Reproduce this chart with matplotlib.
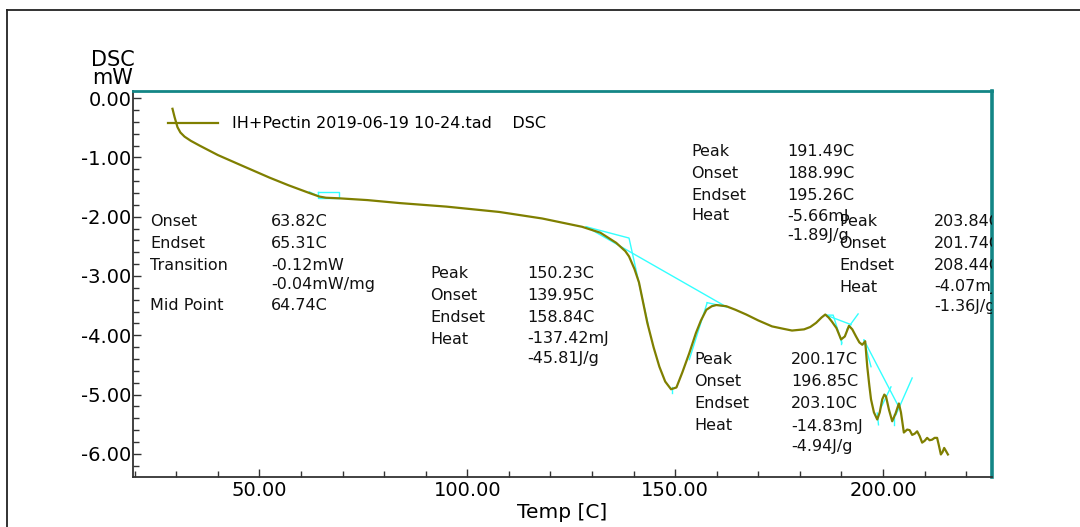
import numpy as np
import matplotlib
matplotlib.use("Agg")
import matplotlib.pyplot as plt
from matplotlib.lines import Line2D
from matplotlib.ticker import MultipleLocator, FormatStrFormatter

# DSC trace, temperature [C] vs heat flow [mW]
temp = [29.1, 29.6, 30.3, 31.0, 32.0, 33.5, 35.6, 40.0, 45.2, 52.4, 57.0, 62.0,
        64.4, 66.0, 69.2, 76.0, 83.7, 95.0, 107.7, 118.0, 127.6, 132.0, 135.8,
        138.0, 138.9, 140.2, 141.3, 142.3, 143.3, 144.8, 146.2, 147.6, 149.0,
        150.3, 151.7, 153.4, 155.0, 156.2, 157.5, 158.8, 159.9, 162.3, 164.5,
        167.1, 170.0, 173.3, 176.0, 178.1, 181.0, 182.5, 183.9, 185.2, 186.1,
        186.9, 187.7, 188.8, 189.9, 190.8, 191.8, 192.6, 193.5, 194.3, 195.0,
        195.7, 196.2, 196.7, 197.1, 197.8, 198.6, 199.2, 199.8, 200.3, 200.7,
        201.4, 202.2, 203.0, 203.8, 204.3, 205.0, 205.8, 206.4, 207.0, 207.6,
        208.2, 208.8, 209.4, 210.0, 210.6, 211.2, 211.8, 212.4, 213.0, 213.4,
        213.9, 214.3, 214.7, 215.2, 215.6]
dsc = [-0.18, -0.32, -0.49, -0.58, -0.65, -0.72, -0.80, -0.96, -1.12, -1.34, -1.47,
       -1.60, -1.66, -1.68, -1.69, -1.72, -1.77, -1.83, -1.92, -2.03, -2.17, -2.27,
       -2.44, -2.58, -2.67, -2.88, -3.11, -3.45, -3.79, -4.20, -4.53, -4.78, -4.91,
       -4.88, -4.63, -4.30, -3.96, -3.75, -3.57, -3.51, -3.49, -3.51, -3.57, -3.65,
       -3.75, -3.85, -3.89, -3.92, -3.90, -3.86, -3.79, -3.70, -3.65, -3.70, -3.77,
       -3.88, -4.07, -4.02, -3.84, -3.90, -4.02, -4.12, -4.16, -4.10, -4.53, -4.85,
       -5.08, -5.30, -5.42, -5.30, -5.08, -5.00, -5.03, -5.25, -5.45, -5.32, -5.15,
       -5.30, -5.64, -5.59, -5.60, -5.68, -5.66, -5.62, -5.70, -5.81, -5.78, -5.73,
       -5.77, -5.76, -5.73, -5.73, -5.85, -6.01, -5.97, -5.90, -5.96, -6.01]

# analysis construction lines (tangents / baselines), pairs of (T, mW) segments
tg_box_t = [64.2, 69.2, 69.2, 64.2, 64.2]
tg_box_y = [-1.59, -1.59, -1.68, -1.68, -1.59]
tg_lead_t = [62.0, 64.4]
tg_lead_y = [-1.58, -1.66]

seg_t = [
    [128.6, 138.9, 143.5],
    [128.6, 162.3],
    [157.7, 162.3],
    [157.7, 153.4],
    [149.3, 149.3],
    [186.3, 188.0, 190.1],
    [186.3, 192.3],
    [191.3, 194.0],
    [189.9, 189.9],
    [195.4, 203.8],
    [195.4, 197.1],
    [199.5, 201.9],
    [198.6, 198.9],
    [203.1, 207.0],
    [202.6, 202.6],
]
seg_y = [
    [-2.17, -2.36, -3.82],
    [-2.17, -3.52],
    [-3.45, -3.52],
    [-3.45, -4.41],
    [-4.88, -4.98],
    [-3.66, -3.66, -4.13],
    [-3.66, -3.82],
    [-3.90, -3.64],
    [-4.05, -4.15],
    [-4.08, -5.21],
    [-4.08, -4.53],
    [-5.22, -4.87],
    [-5.31, -5.51],
    [-5.34, -4.72],
    [-5.33, -5.52],
]

# result tables: (label column, value column, rows)
tables = [
    (150, 271, [("Onset", "63.82C", 221), ("Endset", "65.31C", 243),
                ("Transition", "-0.12mW", 265), ("", "-0.04mW/mg", 284),
                ("Mid Point", "64.74C", 305)]),
    (430, 527, [("Peak", "150.23C", 273), ("Onset", "139.95C", 295),
                ("Endset", "158.84C", 317), ("Heat", "-137.42mJ", 339),
                ("", "-45.81J/g", 358)]),
    (691, 787, [("Peak", "191.49C", 152), ("Onset", "188.99C", 173),
                ("Endset", "195.26C", 195), ("Heat", "-5.66mJ", 216),
                ("", "-1.89J/g", 236)]),
    (839, 934, [("Peak", "203.84C", 221), ("Onset", "201.74C", 243),
                ("Endset", "208.44C", 265), ("Heat", "-4.07mJ", 287),
                ("", "-1.36J/g", 306)]),
    (694, 791, [("Peak", "200.17C", 360), ("Onset", "196.85C", 382),
                ("Endset", "203.10C", 404), ("Heat", "-14.83mJ", 426),
                ("", "-4.94J/g", 446)]),
]

W, H = 1080, 527
fig = plt.figure(figsize=(W / 100, H / 100), dpi=100)
plt.rcParams['font.family'] = ['DejaVu Sans']

def fx(px):
    return px / W

def fy(py):
    return 1 - py / H

# outer frame
fig.add_artist(Line2D([fx(7), fx(7)], [fy(10), 0], color='#222222', lw=1.3))
fig.add_artist(Line2D([fx(7), 1], [fy(10), fy(10)], color='#222222', lw=1.3))

ax = fig.add_axes([fx(133), fy(477), fx(992) - fx(133), fy(91) - fy(477)])
ax.set_xlim(19.6, 226.2)
ax.set_ylim(-6.39, 0.12)

olive = '#7f7f00'
cyan = '#33ffff'

ax.plot(temp, dsc, color=olive, lw=1.6, zorder=3,
        label='IH+Pectin 2019-06-19 10-24.tad    DSC')
ax.plot(tg_box_t, tg_box_y, color=cyan, lw=1.0, zorder=2)
ax.plot(tg_lead_t, tg_lead_y, color=cyan, lw=1.0, zorder=2)
for st, sy in zip(seg_t, seg_y):
    ax.plot(st, sy, color=cyan, lw=1.0, zorder=2)

for side in ['left', 'bottom']:
    ax.spines[side].set_color('#333333')
    ax.spines[side].set_linewidth(1.3)
ax.spines['top'].set_color('#138686')
ax.spines['top'].set_linewidth(2.0)
ax.spines['right'].set_color('#138686')
ax.spines['right'].set_linewidth(2.6)

ax.xaxis.set_major_locator(MultipleLocator(50))
ax.xaxis.set_minor_locator(MultipleLocator(10))
ax.yaxis.set_major_locator(MultipleLocator(1))
ax.yaxis.set_minor_locator(MultipleLocator(0.2))
ax.xaxis.set_major_formatter(FormatStrFormatter('%.2f'))
ax.yaxis.set_major_formatter(FormatStrFormatter('%.2f'))
ax.tick_params(which='both', direction='in', color='#333333', width=1.0,
               top=False, right=False, labelsize=14)
ax.tick_params(which='major', length=6)
ax.tick_params(which='minor', length=4)
ax.tick_params(axis='y', pad=1)
ax.tick_params(axis='x', pad=3)

ax.set_xlabel('Temp [C]', fontsize=14.5, labelpad=2)
fig.text(fx(113), fy(60), 'DSC', fontsize=15, ha='center', va='center')
fig.text(fx(113), fy(78), 'mW', fontsize=15, ha='center', va='center')

leg = ax.legend(loc='center left', bbox_to_anchor=((168 - 133) / 859, (477 - 124) / 386),
                frameon=False, fontsize=11.5, handlelength=3.1, handletextpad=0.9,
                borderpad=0, borderaxespad=0)

for lx, vx, rows in tables:
    for lab, val, py in rows:
        if lab:
            ax.text(fx(lx), fy(py), lab, transform=fig.transFigure, fontsize=11.5,
                    va='center', ha='left', color='#111111', clip_on=True)
        t = ax.text(fx(vx), fy(py), val, transform=fig.transFigure, fontsize=11.5,
                    va='center', ha='left', color='#111111', clip_on=True)
        t.set_clip_box(ax.bbox)

fig.savefig('out.png', dpi=100)
